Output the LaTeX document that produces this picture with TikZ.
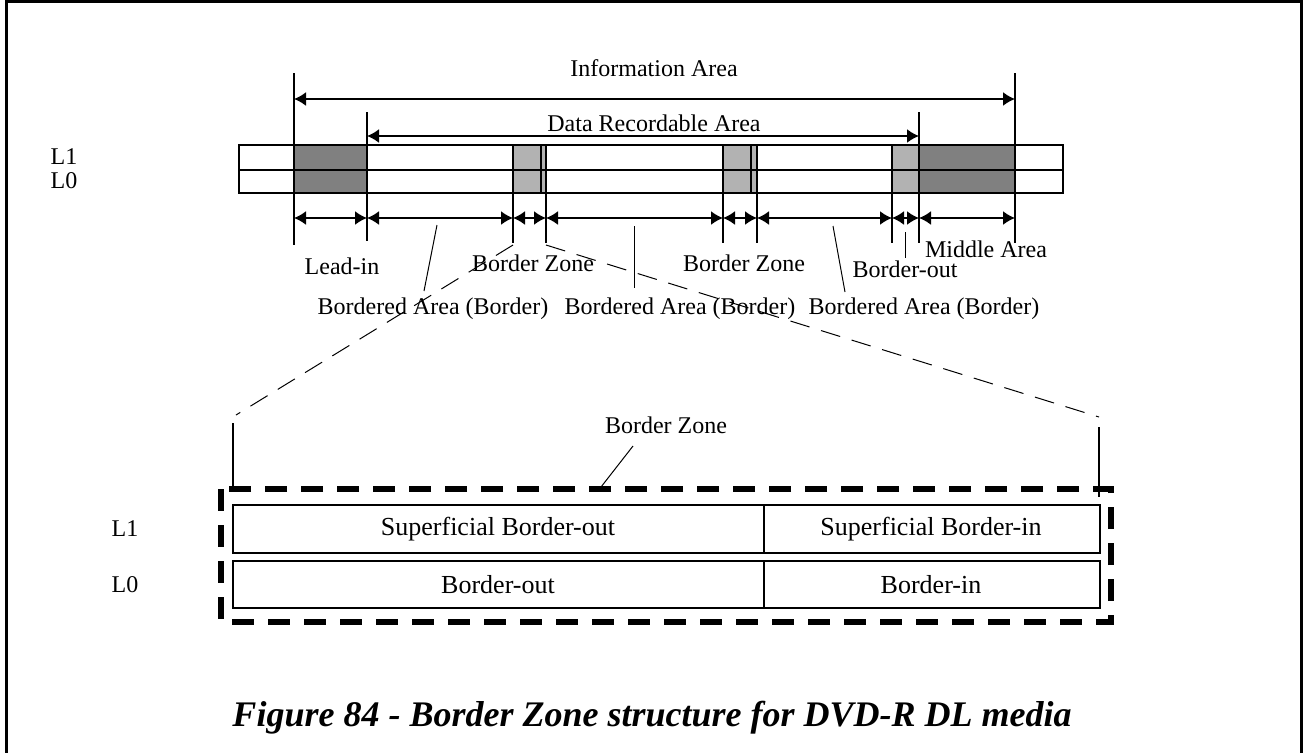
\documentclass[tikz,border=0pt]{standalone}
\usepackage{fontspec}
\setmainfont{Liberation Serif}
\usetikzlibrary{arrows.meta}
\tikzset{
  lbl/.style={font=\fontsize{12}{14}\selectfont, inner sep=0pt},
  boxlbl/.style={font=\fontsize{13}{15}\selectfont, inner sep=0pt},
  dim/.style={line width=0.9pt, {Latex[length=6pt,width=7pt]}-{Latex[length=6pt,width=7pt]}},
  tick/.style={line width=0.9pt},
  lead/.style={line width=0.5pt},
  zoomline/.style={line width=0.5pt, dash pattern=on 10pt off 6pt},
  zonebox/.style={line width=3pt, dash pattern=on 11pt off 7pt},
}
\begin{document}
\begin{tikzpicture}[x=0.5pt,y=-0.5pt]
\useasboundingbox (0,0) rectangle (1305,752);
\draw[line width=1.6pt] (6.5,760) -- (6.5,1.5) -- (1301.5,1.5) -- (1301.5,760);

\coordinate (leadin) at (294,193);
\coordinate (dra) at (367,193);
\coordinate (bz1l) at (513,193);
\coordinate (bz1r) at (546,193);
\coordinate (bz2l) at (723,193);
\coordinate (bz2r) at (757,193);
\coordinate (bol) at (892,193);
\coordinate (mid) at (919,193);
\coordinate (mide) at (1015,193);

\fill[black!50] (leadin) rectangle (dra |- 0,145);
\fill[black!30] (bz1l) rectangle (bz1r |- 0,145);
\fill[black!30] (bz2l) rectangle (bz2r |- 0,145);
\fill[black!30] (bol) rectangle (mid |- 0,145);
\fill[black!50] (mid) rectangle (mide |- 0,145);
\draw[tick] (239,145) rectangle (1063,193);
\draw[tick] (239,170) -- (1063,170);
\draw[tick] (541,145) -- (541,193);
\draw[tick] (751,145) -- (751,193);

\draw[tick] (leadin |- 0,73) -- (leadin |- 0,245);
\draw[tick] (mide |- 0,73) -- (mide |- 0,243);
\draw[tick] (dra |- 0,112) -- (dra |- 0,241);
\draw[tick] (mid |- 0,112) -- (mid |- 0,243);
\foreach \p in {bz1l,bz1r,bz2l,bz2r,bol}
  \draw[tick] (\p |- 0,145) -- (\p |- 0,243);

\draw[dim] (leadin |- 0,99) -- (mide |- 0,99);
\draw[dim] (dra |- 0,136) -- (mid |- 0,136);
\foreach \a/\b in {leadin/dra,dra/bz1l,bz1l/bz1r,bz1r/bz2l,bz2l/bz2r,bz2r/bol,bol/mid,mid/mide}
  \draw[dim] (\a |- 0,218) -- (\b |- 0,218);

\node[lbl] (info) at (654,68) {Information Area};
\node[lbl] (data) at (654,123) {Data Recordable Area};
\node[lbl] (l1top) at (64,157) {L1};
\node[lbl] (l0top) at (64,181) {L0};
\node[lbl] (leadlbl) at (342,266) {Lead-in};
\node[lbl] (bzlbla) at (533,263) {Border Zone};
\node[lbl] (bzlblb) at (744,263) {Border Zone};
\node[lbl] (bolbl) at (905,269) {Border-out};
\node[lbl] (midlbl) at (986,249) {Middle Area};
\node[lbl] (baa) at (433,309) {Bordered Area (Border)};
\node[lbl] (bab) at (680,309) {Bordered Area (Border)};
\node[lbl] (bac) at (924,309) {Bordered Area (Border)};

\draw[lead] (437,225) -- (424,291);
\draw[lead] (634,226) -- (634,288);
\draw[lead] (833,226) -- (845,292);
\draw[lead] (905,232) -- (905,258);

\draw[zoomline] (bz1l |- 0,245) -- (236,415);
\draw[zoomline] (bz1r |- 0,245) -- (1099,417);
\draw[line width=0.7pt] (233,423) -- (233,487);
\draw[line width=0.7pt] (1099,427) -- (1099,497);

\node[lbl] (bzlow) at (666,425) {Border Zone};
\draw[lead] (633,446) -- (601,487);

\draw[zonebox] (221,489) rectangle (1111,622);
\draw[tick] (233,505) rectangle (1100,553);
\draw[tick] (764,505) -- (764,553);
\draw[tick] (233,561) rectangle (1100,608);
\draw[tick] (764,561) -- (764,608);

\node[lbl] (l1low) at (125,529) {L1};
\node[lbl] (l0low) at (125,585) {L0};
\node[boxlbl] (sbo) at (498,529) {Superficial Border-out};
\node[boxlbl] (sbi) at (931,529) {Superficial Border-in};
\node[boxlbl] (bo) at (498,585) {Border-out};
\node[boxlbl] (bi) at (931,585) {Border-in};

\node[font=\fontsize{18}{21}\selectfont\bfseries\itshape] (cap) at (652,718) {Figure 84 - Border Zone structure for DVD-R DL media};
\end{tikzpicture}
\end{document}
